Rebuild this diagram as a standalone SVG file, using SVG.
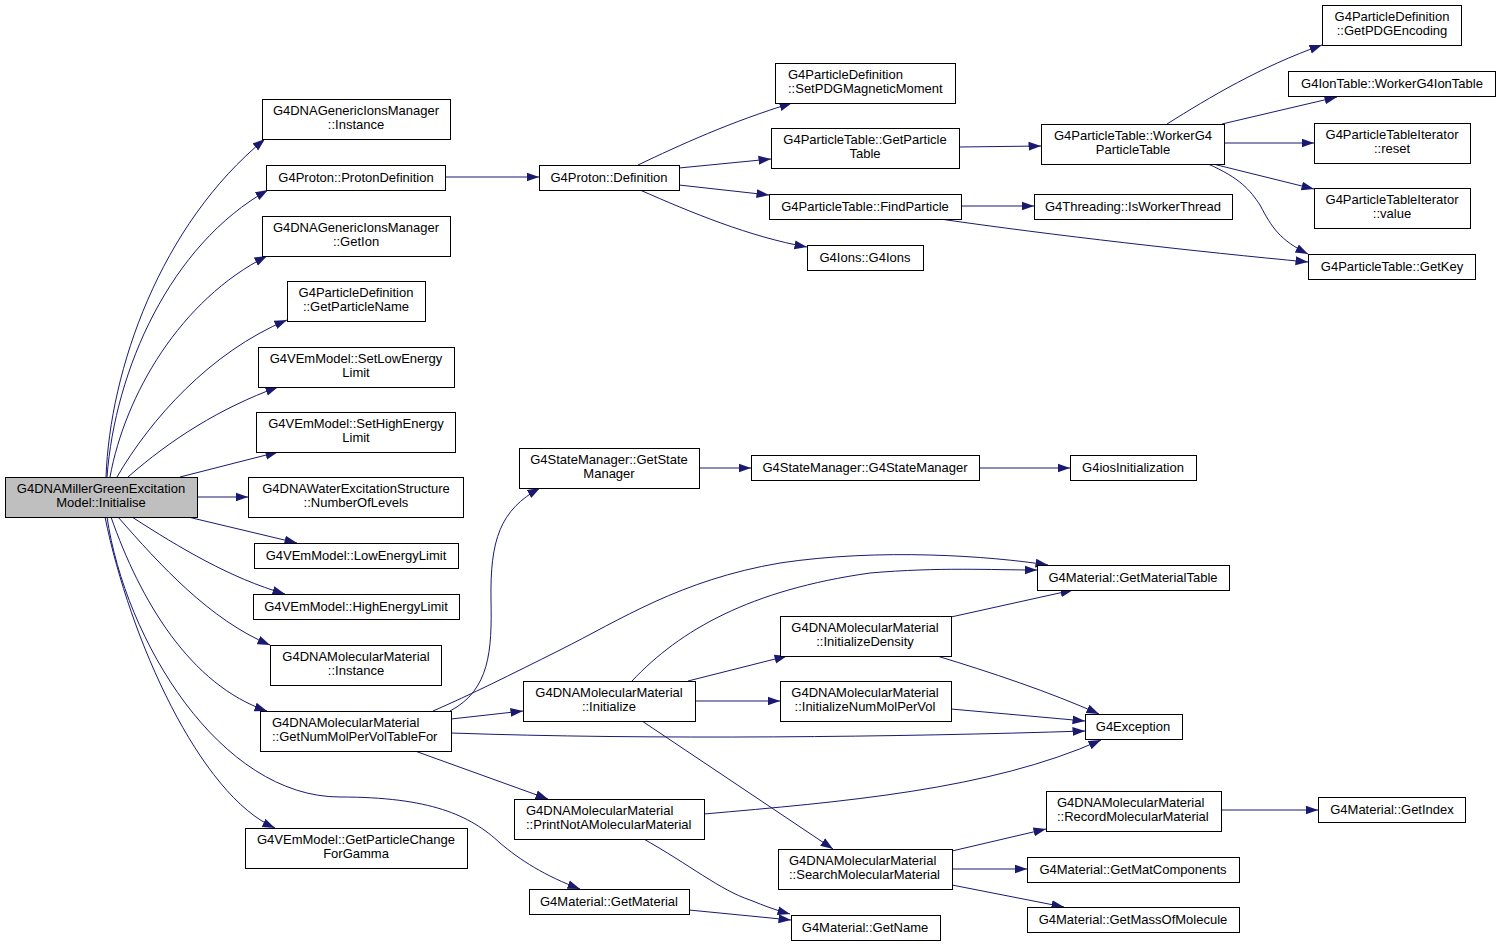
<svg xmlns="http://www.w3.org/2000/svg" width="1501" height="947" viewBox="0 0 1501 947">
<defs>
<style>
.n rect{fill:#ffffff;stroke:#000000;stroke-width:1}
.n.root rect{fill:#bfbfbf}
.n text{font-family:"Liberation Sans",Arial,sans-serif;font-size:13px;fill:#000000}
.c{text-anchor:middle}
.e path{fill:none;stroke:#191970;stroke-width:1;marker-end:url(#a)}
</style>
<marker id="a" markerUnits="userSpaceOnUse" markerWidth="13" markerHeight="10" refX="12.5" refY="5" orient="auto" viewBox="0 0 13 10"><path d="M0,0.5 L12.5,5 L0,9.5 z" fill="#191970"/></marker>
</defs>
<rect width="1501" height="947" fill="#ffffff"/>
<g id="edges" class="e">
<path d="M106,477 C110,370 160,225 265,139"/>
<path d="M107,477 C115,370 170,245 268,190"/>
<path d="M110,477 C125,395 180,300 267,256"/>
<path d="M117,477 C150,420 210,352 287,320"/>
<path d="M128,477 C170,440 220,408 278,387"/>
<path d="M180,477 L278,452"/>
<path d="M197,497 L248,497"/>
<path d="M188,517 L297,543"/>
<path d="M132,517 C180,548 230,578 285,594"/>
<path d="M118,517 C160,565 210,620 270,645"/>
<path d="M111,517 C140,600 190,685 267,711"/>
<path d="M107,517 C125,640 220,797 340,797 C430,797 470,815 500,843 C520,860 545,876 580,889"/>
<path d="M105,517 C130,640 200,795 275,828"/>
<path d="M445,177 L539,177"/>
<path d="M638,165 C680,145 730,122 792,103"/>
<path d="M679,168 L771,159"/>
<path d="M679,185 L769,195"/>
<path d="M640,190 C690,212 750,237 807,247"/>
<path d="M959,147 L1041,146"/>
<path d="M961,206 L1034,206"/>
<path d="M940,219 C1050,235 1200,252 1308,262"/>
<path d="M1167,124 C1210,97 1260,67 1322,45"/>
<path d="M1222,124 L1337,97"/>
<path d="M1224,143 L1314,143"/>
<path d="M1213,164 L1314,189"/>
<path d="M1208,164 C1240,178 1250,190 1260,205 C1272,228 1280,240 1308,254"/>
<path d="M450,711 C490,690 492,650 491,600 C490,540 500,510 540,488"/>
<path d="M433,711 C470,695 510,675 560,650 C620,620 680,580 780,563 C880,548 990,556 1048,565"/>
<path d="M632,681 C680,630 750,590 870,573 C940,567 990,570 1037,570"/>
<path d="M451,719 L523,711"/>
<path d="M451,733 C650,740 900,737 1085,731"/>
<path d="M415,751 L548,799"/>
<path d="M699,468 L751,468"/>
<path d="M979,468 L1070,468"/>
<path d="M688,681 L787,656"/>
<path d="M695,701 L780,701"/>
<path d="M642,721 L833,849"/>
<path d="M951,617 L1073,590"/>
<path d="M937,656 C990,672 1050,692 1099,714"/>
<path d="M951,709 L1085,721"/>
<path d="M704,814 C840,802 990,790 1101,740"/>
<path d="M642,838 C690,865 720,890 750,900 C765,906 775,910 790,914"/>
<path d="M689,910 L791,920"/>
<path d="M952,851 L1046,829"/>
<path d="M952,869 L1027,869"/>
<path d="M952,885 L1064,907"/>
<path d="M1221,810 L1318,810"/>
</g>
<g id="n0" class="n root"><rect x="5.5" y="477.5" width="192" height="40"/><text class="c" x="101" y="493">G4DNAMillerGreenExcitation</text><text class="c" x="101" y="507">Model::Initialise</text></g>
<g id="n1" class="n"><rect x="262.5" y="99.5" width="188" height="40"/><text class="c" x="356" y="115">G4DNAGenericIonsManager</text><text class="c" x="356" y="129">::Instance</text></g>
<g id="n2" class="n"><rect x="266.5" y="165.5" width="179" height="25"/><text class="c" x="356" y="182">G4Proton::ProtonDefinition</text></g>
<g id="n3" class="n"><rect x="262.5" y="216.5" width="188" height="40"/><text class="c" x="356" y="232">G4DNAGenericIonsManager</text><text class="c" x="356" y="246">::GetIon</text></g>
<g id="n4" class="n"><rect x="287.5" y="281.5" width="138" height="40"/><text class="c" x="356" y="297">G4ParticleDefinition</text><text class="c" x="356" y="311">::GetParticleName</text></g>
<g id="n5" class="n"><rect x="258.5" y="347.5" width="196" height="40"/><text class="c" x="356" y="363">G4VEmModel::SetLowEnergy</text><text class="c" x="356" y="377">Limit</text></g>
<g id="n6" class="n"><rect x="256.5" y="412.5" width="199" height="40"/><text class="c" x="356" y="428">G4VEmModel::SetHighEnergy</text><text class="c" x="356" y="442">Limit</text></g>
<g id="n7" class="n"><rect x="248.5" y="477.5" width="215" height="40"/><text class="c" x="356" y="493">G4DNAWaterExcitationStructure</text><text class="c" x="356" y="507">::NumberOfLevels</text></g>
<g id="n8" class="n"><rect x="254.5" y="543.5" width="204" height="25"/><text class="c" x="356" y="560">G4VEmModel::LowEnergyLimit</text></g>
<g id="n9" class="n"><rect x="253.5" y="594.5" width="206" height="25"/><text class="c" x="356" y="611">G4VEmModel::HighEnergyLimit</text></g>
<g id="n10" class="n"><rect x="270.5" y="645.5" width="171" height="40"/><text class="c" x="356" y="661">G4DNAMolecularMaterial</text><text class="c" x="356" y="675">::Instance</text></g>
<g id="n11" class="n"><rect x="260.5" y="711.5" width="191" height="40"/><text x="272" y="727">G4DNAMolecularMaterial</text><text x="272" y="741">::GetNumMolPerVolTableFor</text></g>
<g id="n12" class="n"><rect x="245.5" y="828.5" width="222" height="40"/><text class="c" x="356" y="844">G4VEmModel::GetParticleChange</text><text class="c" x="356" y="858">ForGamma</text></g>
<g id="n13" class="n"><rect x="539.5" y="165.5" width="140" height="25"/><text class="c" x="609" y="182">G4Proton::Definition</text></g>
<g id="n14" class="n"><rect x="775.5" y="63.5" width="180" height="40"/><text x="788" y="79">G4ParticleDefinition</text><text x="788" y="93">::SetPDGMagneticMoment</text></g>
<g id="n15" class="n"><rect x="771.5" y="128.5" width="188" height="40"/><text class="c" x="865" y="144">G4ParticleTable::GetParticle</text><text class="c" x="865" y="158">Table</text></g>
<g id="n16" class="n"><rect x="769.5" y="194.5" width="192" height="25"/><text class="c" x="865" y="211">G4ParticleTable::FindParticle</text></g>
<g id="n17" class="n"><rect x="807.5" y="245.5" width="116" height="25"/><text class="c" x="865" y="262">G4Ions::G4Ions</text></g>
<g id="n18" class="n"><rect x="1041.5" y="124.5" width="183" height="40"/><text class="c" x="1133" y="140">G4ParticleTable::WorkerG4</text><text class="c" x="1133" y="154">ParticleTable</text></g>
<g id="n19" class="n"><rect x="1034.5" y="194.5" width="198" height="25"/><text class="c" x="1133" y="211">G4Threading::IsWorkerThread</text></g>
<g id="n20" class="n"><rect x="1322.5" y="5.5" width="139" height="40"/><text class="c" x="1392" y="21">G4ParticleDefinition</text><text class="c" x="1392" y="35">::GetPDGEncoding</text></g>
<g id="n21" class="n"><rect x="1288.5" y="71.5" width="207" height="25"/><text class="c" x="1392" y="88">G4IonTable::WorkerG4IonTable</text></g>
<g id="n22" class="n"><rect x="1314.5" y="123.5" width="156" height="40"/><text class="c" x="1392" y="139">G4ParticleTableIterator</text><text class="c" x="1392" y="153">::reset</text></g>
<g id="n23" class="n"><rect x="1314.5" y="188.5" width="156" height="40"/><text class="c" x="1392" y="204">G4ParticleTableIterator</text><text class="c" x="1392" y="218">::value</text></g>
<g id="n24" class="n"><rect x="1308.5" y="254.5" width="167" height="25"/><text class="c" x="1392" y="271">G4ParticleTable::GetKey</text></g>
<g id="n25" class="n"><rect x="519.5" y="448.5" width="180" height="40"/><text class="c" x="609" y="464">G4StateManager::GetState</text><text class="c" x="609" y="478">Manager</text></g>
<g id="n26" class="n"><rect x="751.5" y="455.5" width="228" height="25"/><text class="c" x="865" y="472">G4StateManager::G4StateManager</text></g>
<g id="n27" class="n"><rect x="1070.5" y="455.5" width="126" height="25"/><text class="c" x="1133" y="472">G4iosInitialization</text></g>
<g id="n28" class="n"><rect x="1037.5" y="565.5" width="192" height="25"/><text class="c" x="1133" y="582">G4Material::GetMaterialTable</text></g>
<g id="n29" class="n"><rect x="780.5" y="616.5" width="171" height="40"/><text class="c" x="865" y="632">G4DNAMolecularMaterial</text><text class="c" x="865" y="646">::InitializeDensity</text></g>
<g id="n30" class="n"><rect x="523.5" y="681.5" width="172" height="40"/><text class="c" x="609" y="697">G4DNAMolecularMaterial</text><text class="c" x="609" y="711">::Initialize</text></g>
<g id="n31" class="n"><rect x="780.5" y="681.5" width="171" height="40"/><text class="c" x="865" y="697">G4DNAMolecularMaterial</text><text class="c" x="865" y="711">::InitializeNumMolPerVol</text></g>
<g id="n32" class="n"><rect x="1085.5" y="714.5" width="97" height="25"/><text class="c" x="1133" y="731">G4Exception</text></g>
<g id="n33" class="n"><rect x="514.5" y="799.5" width="190" height="40"/><text x="526" y="815">G4DNAMolecularMaterial</text><text x="526" y="829">::PrintNotAMolecularMaterial</text></g>
<g id="n34" class="n"><rect x="778.5" y="849.5" width="174" height="40"/><text x="789" y="865">G4DNAMolecularMaterial</text><text x="789" y="879">::SearchMolecularMaterial</text></g>
<g id="n35" class="n"><rect x="529.5" y="889.5" width="160" height="25"/><text class="c" x="609" y="906">G4Material::GetMaterial</text></g>
<g id="n36" class="n"><rect x="791.5" y="915.5" width="149" height="25"/><text class="c" x="865" y="932">G4Material::GetName</text></g>
<g id="n37" class="n"><rect x="1046.5" y="791.5" width="175" height="40"/><text x="1057" y="807">G4DNAMolecularMaterial</text><text x="1057" y="821">::RecordMolecularMaterial</text></g>
<g id="n38" class="n"><rect x="1318.5" y="797.5" width="147" height="25"/><text class="c" x="1392" y="814">G4Material::GetIndex</text></g>
<g id="n39" class="n"><rect x="1027.5" y="857.5" width="212" height="25"/><text class="c" x="1133" y="874">G4Material::GetMatComponents</text></g>
<g id="n40" class="n"><rect x="1027.5" y="907.5" width="212" height="25"/><text class="c" x="1133" y="924">G4Material::GetMassOfMolecule</text></g>
</svg>
